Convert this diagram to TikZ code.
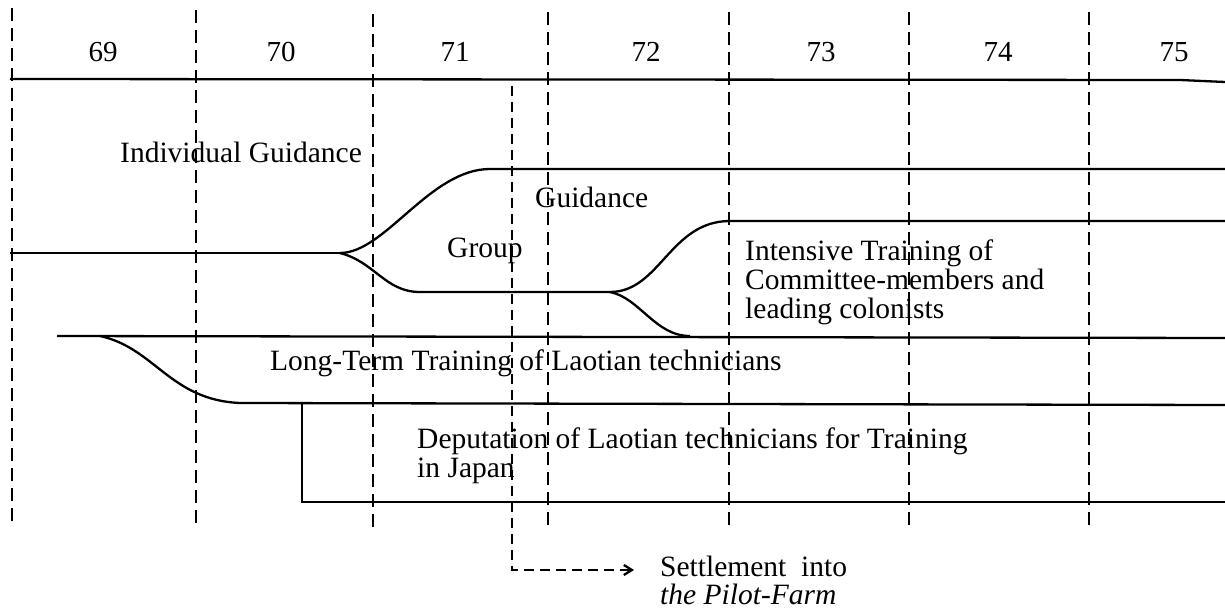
\documentclass[tikz,border=0pt]{standalone}
\usepackage{fontspec}
\setmainfont{Liberation Serif}
\usetikzlibrary{arrows.meta}
\begin{document}
\begin{tikzpicture}[x=1pt,y=-1pt,
  txt/.style={anchor=base west,inner sep=0pt,font=\fontsize{29.5}{30}\selectfont},
  yr/.style={anchor=base,inner sep=0pt,font=\fontsize{29}{30}\selectfont},
  solidln/.style={line width=2.3pt},
  gridln/.style={line width=2.3pt,dash pattern=on 13pt off 7pt},
  arrowln/.style={line width=2.3pt,dash pattern=on 10pt off 6pt,-{Straight Barb[length=8pt,width=10pt,line width=2.3pt]}}
]
\useasboundingbox (0,0) rectangle (1225,612);
% year labels
\node[yr] (y69) at (103,62) {69};
\node[yr] (y70) at (281,62) {70};
\node[yr] (y71) at (455,62) {71};
\node[yr] (y72) at (646,62) {72};
\node[yr] (y73) at (821,62) {73};
\node[yr] (y74) at (998,62) {74};
\node[yr] (y75) at (1174,62) {75};
% vertical dashed grid lines
\coordinate (g1t) at (12,8);   \coordinate (g1b) at (12,522);
\coordinate (g2t) at (196,10); \coordinate (g2b) at (196,525);
\coordinate (g3t) at (373,14); \coordinate (g3b) at (373,527);
\coordinate (g4t) at (548,12); \coordinate (g4b) at (548,527);
\coordinate (g5t) at (729,12); \coordinate (g5b) at (729,530);
\coordinate (g6t) at (909,12); \coordinate (g6b) at (909,530);
\coordinate (g7t) at (1089,12);\coordinate (g7b) at (1089,532);
\foreach \i in {1,...,7}{\draw[gridln] (g\i t) -- (g\i b);}
% top line
\draw[solidln] (10,79) -- (1180,80) -- (1225,82);
% guidance branching
\coordinate (split1) at (340,253);
\coordinate (split2) at (610,292);
\draw[solidln] (10,253) -- (split1);
\draw[solidln] (split1) .. controls (385,253) and (430,169) .. (490,169) -- (1225,169);
\draw[solidln] (split1) .. controls (375,262) and (385,292) .. (420,292) -- (split2);
\draw[solidln] (split2) .. controls (660,292) and (670,221) .. (730,221) -- (1225,221);
\draw[solidln] (split2) .. controls (640,298) and (655,336) .. (690,336);
% long-term training
\draw[solidln] (57,336) -- (1225,338);
\draw[solidln] (100,336) .. controls (155,348) and (170,400) .. (240,403) -- (1225,405);
% deputation
\draw[solidln] (302,403) -- (302,502) -- (1225,502);
% settlement arrow
\coordinate (s0) at (512,86);
\coordinate (s1) at (512,570);
\coordinate (s2) at (634,570);
\draw[arrowln] (s0) -- (s1) -- (s2);
% texts
\node[txt] (t1) at (120,163) {Individual Guidance};
\node[txt] (t2) at (535,208) {Guidance};
\node[txt] (t3) at (447,258) {Group};
\node[txt] (t4a) at (745,260) {Intensive Training of};
\node[txt] (t4b) at (745,289) {Committee-members and};
\node[txt] (t4c) at (745,318) {leading colonists};
\node[txt] (t5) at (270,370) {Long-Term Training of Laotian technicians};
\node[txt] (t6a) at (417,448) {Deputation of Laotian technicians for Training};
\node[txt] (t6b) at (417,477) {in Japan};
\node[txt] (t7a) at (660,576) {Settlement\ \ into};
\node[txt] (t7b) at (660,604) {\itshape the Pilot-Farm};
\end{tikzpicture}
\end{document}
